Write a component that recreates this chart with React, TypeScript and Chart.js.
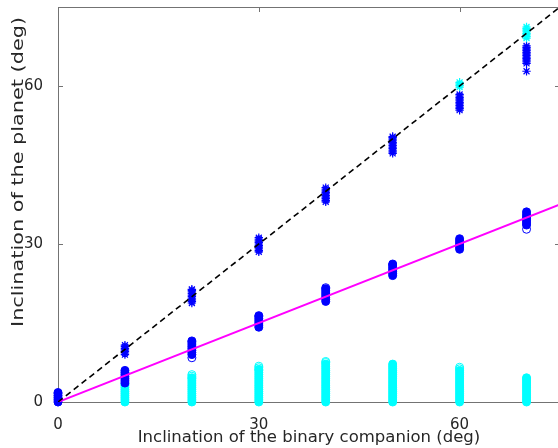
import React, { useEffect, useRef } from "react";
import { Chart, registerables } from "chart.js";

Chart.register(...registerables);

// Inclination of the binary companion (deg) at which each run was made
const companionIncl = [0, 10, 20, 30, 40, 50, 60, 70];

// Planet inclination, '*' markers, blue group close to the 1:1 relation
const starsBlue: number[][] = [
  [0.0, 0.4, 0.8, 1.2],
  [9.0, 9.3, 9.6, 9.9, 10.2, 10.5, 10.8],
  [18.8, 19.1, 19.4, 19.7, 20.0, 20.3, 20.6, 20.9, 21.2, 21.4],
  [28.5, 28.8, 29.1, 29.4, 29.7, 30.0, 30.3, 30.6, 30.9, 31.2],
  [38.0, 38.3, 38.6, 38.9, 39.2, 39.5, 39.8, 40.1, 40.4, 40.7],
  [47.2, 47.5, 47.8, 48.1, 48.4, 48.7, 49.0, 49.3, 49.6, 49.9, 50.2, 50.4],
  [55.4, 55.7, 56.0, 56.3, 56.6, 56.9, 57.2, 57.5, 57.8, 58.1, 58.4],
  [62.8, 64.3, 64.6, 64.9, 65.2, 65.5, 65.8, 66.1, 66.4, 66.7, 67.0, 67.3, 67.6],
];

// Planet inclination, '*' markers, cyan group
const starsCyan: number[][] = [
  [], [], [], [], [], [],
  [59.8, 60.1, 60.4, 60.7],
  [69.1, 69.4, 69.7, 70.0, 70.3, 70.6, 70.9, 71.2],
];

// Planet inclination, 'o' markers, blue group near half the companion value
const circlesBlue: number[][] = [
  [0.0, 0.4, 0.8, 1.2, 1.6, 1.8],
  [3.6, 4.0, 4.4, 4.8, 5.2, 5.6, 6.0],
  [9.0, 9.4, 9.8, 10.2, 10.6, 11.0, 11.4, 11.6],
  [14.2, 14.6, 15.0, 15.4, 15.8, 16.2, 16.4],
  [19.1, 19.5, 19.9, 20.3, 20.7, 21.1, 21.5],
  [24.0, 24.4, 24.8, 25.2, 25.6, 26.0, 26.2],
  [29.0, 29.4, 29.8, 30.2, 30.6, 31.0],
  [33.6, 34.0, 34.4, 34.8, 35.2, 35.6, 36.1],
];

// Isolated blue 'o' runs at the ends of some columns
const circlesBlueOpen: number[][] = [
  [], [], [8.4], [], [21.7], [], [], [32.8],
];

// Planet inclination, 'o' markers, cyan group close to zero
const circlesCyan: number[][] = [
  [],
  [0.0, 0.4, 0.8, 1.2, 1.6, 2.0, 2.4, 2.8, 3.2, 3.4],
  [0.0, 0.4, 0.8, 1.2, 1.6, 2.0, 2.4, 2.8, 3.2, 3.6, 4.0, 4.4, 4.6],
  [0.0, 0.4, 0.8, 1.2, 1.6, 2.0, 2.4, 2.8, 3.2, 3.6, 4.0, 4.4, 4.8, 5.2, 5.6, 6.0, 6.2],
  [0.0, 0.4, 0.8, 1.2, 1.6, 2.0, 2.4, 2.8, 3.2, 3.6, 4.0, 4.4, 4.8, 5.2, 5.6, 6.0, 6.4, 6.8, 7.2],
  [0.0, 0.4, 0.8, 1.2, 1.6, 2.0, 2.4, 2.8, 3.2, 3.6, 4.0, 4.4, 4.8, 5.2, 5.6, 6.0, 6.4, 6.8, 7.2],
  [0.0, 0.4, 0.8, 1.2, 1.6, 2.0, 2.4, 2.8, 3.2, 3.6, 4.0, 4.4, 4.8, 5.2, 5.6, 6.0],
  [0.0, 0.4, 0.8, 1.2, 1.6, 2.0, 2.4, 2.8, 3.2, 3.6, 4.0, 4.4, 4.6],
];

const circlesCyanOpen: number[][] = [
  [], [], [4.9, 5.2], [6.5, 6.8], [7.5, 7.7], [], [6.3, 6.6], [],
];

// Reference relations: one-to-one (dashed) and one-half (magenta)
const oneToOneX = [0, 75];
const oneToOneY = [0, 75];
const halfX = [0, 75];
const halfY = [0, 37.5];

// Axis ticks
const xTicks = [0, 30, 60];
const yTicks = [0, 30, 60];
const axisMax = 75;

const xLabel = "Inclination of the binary companion (deg)";
const yLabel = "Inclination of the planet (deg)";

const FONT = '"DejaVu Sans", sans-serif';
const TEXT = "#262626";
const AXIS = "#737373";
const BLUE = "#0000ff";
const CYAN = "#00ffff";

// plot box inside the 562-wide canvas
const BOX = { left: 58, right: 560, top: 7, bottom: 402 };

function toPoints(cols: number[][]) {
  const pts: { x: number; y: number }[] = [];
  cols.forEach((vals, i) => vals.forEach((v) => pts.push({ x: companionIncl[i], y: v })));
  return pts;
}

function pairPoints(xs: number[], ys: number[]) {
  return xs.map((x, i) => ({ x, y: ys[i] }));
}

const framePlugin = {
  id: "frame",
  beforeDatasetsDraw(chart: any) {
    const { ctx, chartArea: a, scales } = chart;
    ctx.save();
    ctx.strokeStyle = AXIS;
    ctx.lineWidth = 1;
    ctx.beginPath();
    ctx.moveTo(a.left + 0.5, a.top + 0.5);
    ctx.lineTo(a.right + 0.5, a.top + 0.5);
    ctx.lineTo(a.right + 0.5, a.bottom + 0.5);
    ctx.lineTo(a.left + 0.5, a.bottom + 0.5);
    ctx.closePath();
    const tl = 5;
    xTicks.forEach((t) => {
      const px = Math.round(scales.x.getPixelForValue(t)) + 0.5;
      ctx.moveTo(px, a.bottom);
      ctx.lineTo(px, a.bottom - tl);
      ctx.moveTo(px, a.top);
      ctx.lineTo(px, a.top + tl);
    });
    yTicks.forEach((t) => {
      const py = Math.round(scales.y.getPixelForValue(t)) + 0.5;
      ctx.moveTo(a.left, py);
      ctx.lineTo(a.left + tl, py);
      ctx.moveTo(a.right, py);
      ctx.lineTo(a.right - tl, py);
    });
    ctx.stroke();
    ctx.restore();
  },
  afterDraw(chart: any) {
    const { ctx } = chart;
    ctx.save();
    ctx.fillStyle = TEXT;
    ctx.textAlign = "center";
    ctx.textBaseline = "alphabetic";
    ctx.font = `16.5px ${FONT}`;
    ctx.fillText(xLabel, 309, 442);
    ctx.restore();

    // vertical label, stretched along its length
    ctx.save();
    ctx.fillStyle = TEXT;
    ctx.textAlign = "center";
    ctx.textBaseline = "alphabetic";
    ctx.font = `16px ${FONT}`;
    const w = ctx.measureText(yLabel).width;
    const k = 310 / w;
    ctx.translate(23, 172);
    ctx.rotate(-Math.PI / 2);
    ctx.scale(k, 1);
    ctx.fillText(yLabel, 0, 0);
    ctx.restore();
  },
};

export default function App() {
  const ref = useRef<HTMLCanvasElement | null>(null);

  useEffect(() => {
    document.body.style.margin = "0";
    document.body.style.overflow = "hidden";
    const canvas = ref.current;
    if (!canvas) return;

    const circleSet = (label: string, cols: number[][], color: string, filled: boolean) => ({
      type: "scatter" as const,
      label,
      data: toPoints(cols),
      pointStyle: "circle",
      pointRadius: 4,
      pointBorderWidth: 1,
      borderColor: color,
      backgroundColor: filled ? color : "rgba(0,0,0,0)",
      clip: false as any,
      order: 3,
    });

    const starSet = (label: string, cols: number[][], color: string) => ({
      type: "scatter" as const,
      label,
      data: toPoints(cols),
      pointStyle: "star",
      pointRadius: 4.2,
      pointBorderWidth: 1.2,
      borderColor: color,
      backgroundColor: color,
      clip: false as any,
      order: 2,
    });

    const chart = new Chart(canvas, {
      type: "scatter",
      data: {
        datasets: [
          {
            type: "line",
            label: "1:1",
            data: pairPoints(oneToOneX, oneToOneY),
            borderColor: "#000000",
            borderWidth: 1.6,
            borderDash: [6, 4],
            pointRadius: 0,
            fill: false,
            order: 0,
          } as any,
          {
            type: "line",
            label: "1:2",
            data: pairPoints(halfX, halfY),
            borderColor: "#ff00ff",
            borderWidth: 2,
            pointRadius: 0,
            fill: false,
            order: 0,
          } as any,
          starSet("stars cyan", starsCyan, CYAN),
          starSet("stars blue", starsBlue, BLUE),
          circleSet("circles blue open", circlesBlueOpen, BLUE, false),
          circleSet("circles blue", circlesBlue, BLUE, true),
          circleSet("circles cyan open", circlesCyanOpen, CYAN, false),
          circleSet("circles cyan", circlesCyan, CYAN, true),
        ],
      },
      options: {
        animation: false,
        responsive: false,
        events: [],
        layout: {
          autoPadding: false,
          padding: { top: BOX.top, right: 562 - BOX.right, left: 0, bottom: 0 },
        },
        plugins: { legend: { display: false }, tooltip: { enabled: false } },
        scales: {
          x: {
            type: "linear",
            min: 0,
            max: axisMax,
            grid: { display: false },
            border: { display: false },
            afterBuildTicks: (s: any) => {
              s.ticks = xTicks.map((v) => ({ value: v }));
            },
            afterFit: (s: any) => {
              s.height = 448 - BOX.bottom;
              s.paddingLeft = 0;
              s.paddingRight = 0;
              s.paddingTop = 0;
              s.paddingBottom = 0;
            },
            ticks: {
              color: TEXT,
              font: { family: FONT, size: 15 },
              padding: 6,
              maxRotation: 0,
              callback: (v: any) => String(v),
            },
          },
          y: {
            type: "linear",
            min: 0,
            max: axisMax,
            grid: { display: false },
            border: { display: false },
            afterBuildTicks: (s: any) => {
              s.ticks = yTicks.map((v) => ({ value: v }));
            },
            afterFit: (s: any) => {
              s.width = BOX.left;
              s.paddingTop = 0;
              s.paddingBottom = 0;
              s.paddingLeft = 0;
              s.paddingRight = 0;
            },
            ticks: {
              color: TEXT,
              font: { family: FONT, size: 15 },
              padding: 7,
              callback: (v: any) => String(v),
            },
          },
        },
      },
      plugins: [framePlugin],
    });

    return () => chart.destroy();
  }, []);

  return (
    <div
      style={{
        position: "fixed",
        left: 0,
        top: 0,
        width: 558,
        height: 448,
        overflow: "hidden",
        background: "#ffffff",
      }}
    >
      <canvas ref={ref} width={562} height={448} style={{ display: "block" }} />
    </div>
  );
}
